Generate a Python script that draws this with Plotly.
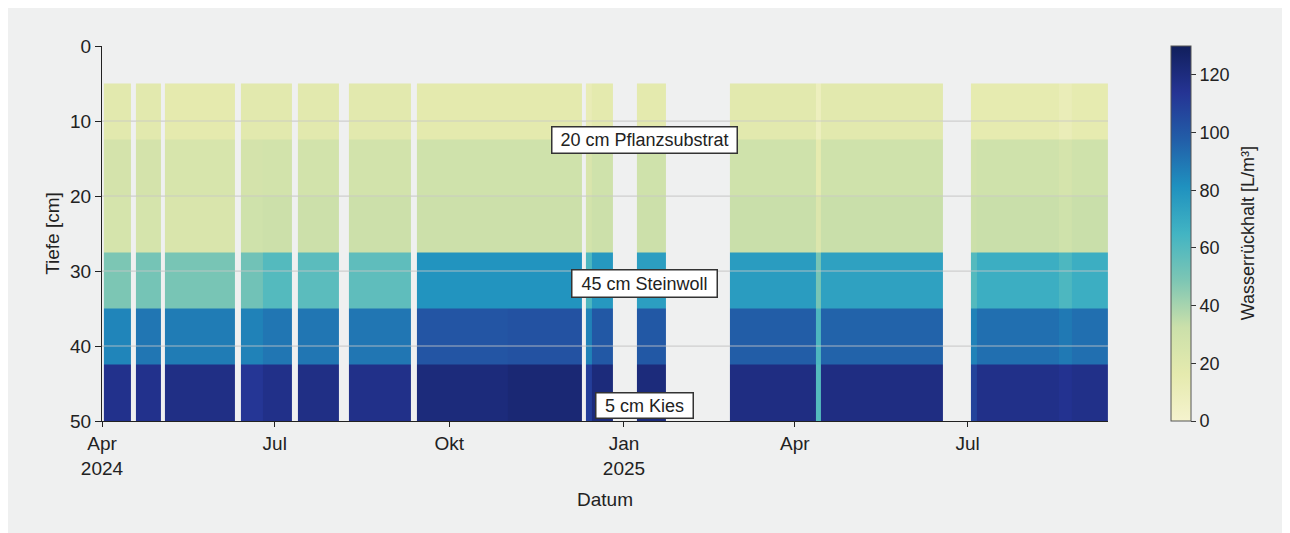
import plotly.graph_objects as go

# Depth layer edges [cm]
depth_edges = [5, 12.5, 20, 27.5, 35, 42.5, 50]

# Measurement periods (start, end) and water retention per layer [L/m³]
period_start = ["2024-04-02", "2024-04-19", "2024-05-04", "2024-06-13", "2024-06-25",
                "2024-07-13", "2024-08-09", "2024-09-14", "2024-11-01", "2024-12-12",
                "2024-12-15", "2025-01-08", "2025-02-26", "2025-04-12", "2025-04-15",
                "2025-07-03", "2025-07-06", "2025-08-18", "2025-08-25"]
period_end = ["2024-04-16", "2024-05-02", "2024-06-10", "2024-06-25", "2024-07-10",
              "2024-08-04", "2024-09-11", "2024-11-01", "2024-12-10", "2024-12-15",
              "2024-12-26", "2025-01-23", "2025-04-12", "2025-04-15", "2025-06-18",
              "2025-07-06", "2025-08-18", "2025-08-25", "2025-09-13"]
layer_5_12 =   [18, 18, 16, 18, 18, 18, 18, 17, 17, 12, 17, 17, 18, 8, 18, 15, 15, 11, 15]
layer_12_20 =  [27, 27, 25, 27, 28, 28, 28, 30, 30, 24, 30, 30, 30, 15, 30, 28, 30, 26, 30]
layer_20_27 =  [26, 26, 24, 30, 32, 32, 32, 32, 32, 28, 32, 32, 33, 22, 33, 32, 33, 30, 33]
layer_27_35 =  [49, 51, 50, 52, 60, 58, 57, 80, 80, 62, 78, 75, 76, 50, 74, 60, 68, 62, 68]
layer_35_42 =  [85, 90, 88, 86, 90, 90, 90, 101, 102, 86, 100, 100, 98, 62, 96, 86, 92, 89, 92]
layer_42_50 =  [116, 116, 118, 113, 117, 118, 117, 121, 123, 110, 121, 121, 119, 60, 119, 108, 117, 115, 117]

x_ticks = ["2024-04-01", "2024-07-01", "2024-10-01", "2025-01-01", "2025-04-01", "2025-07-01"]
x_ticktext = ["Apr<br>2024", "Jul", "Okt", "Jan<br>2025", "Apr", "Jul"]
y_ticks = [0, 10, 20, 30, 40, 50]
cb_ticks = [0, 20, 40, 60, 80, 100, 120]
grid_over = [10, 20, 30, 40]

layers = [layer_5_12, layer_12_20, layer_20_27, layer_27_35, layer_35_42, layer_42_50]

# build bin edges, inserting empty columns for gaps
x_edges = []
z = [[] for _ in layers]
for i, (s, e) in enumerate(zip(period_start, period_end)):
    if i == 0:
        x_edges.append(s)
    elif s != x_edges[-1]:
        x_edges.append(s)
        for row in z:
            row.append(None)
    x_edges.append(e)
    for row, vals in zip(z, layers):
        row.append(vals[i])

FONT = "Liberation Sans, Arial, Helvetica, sans-serif"
BG = "#eff0f0"

# YlGnBu-like scale, slightly muted as in the reference
colorscale = [
    [0.0, "rgb(245,243,206)"],
    [0.125, "rgb(229,234,174)"],
    [0.25, "rgb(203,224,170)"],
    [0.375, "rgb(125,198,180)"],
    [0.5, "rgb(66,180,195)"],
    [0.625, "rgb(31,145,191)"],
    [0.75, "rgb(34,94,168)"],
    [0.875, "rgb(37,52,148)"],
    [1.0, "rgb(17,31,92)"],
]

fig = go.Figure()
fig.add_trace(go.Heatmap(
    x=x_edges, y=depth_edges, z=z,
    colorscale=colorscale,
    zmin=0, zmax=130,
    colorbar=dict(
        tickvals=cb_ticks, ticks="outside", ticklen=5, tickcolor="#333",
        tickfont=dict(size=18, color="#222"),
        thickness=20, len=1.0, lenmode="fraction", y=0.5, yanchor="middle", ypad=0,
        x=1.0626, xanchor="left", xpad=0,
        outlinecolor="#555", outlinewidth=1,
    ),
    hoverongaps=False,
))

shapes = []
for g in grid_over:
    shapes.append(dict(type="line", xref="paper", yref="y", x0=0, x1=1, y0=g, y1=g,
                       line=dict(color="rgba(200,200,200,0.55)", width=1.5), layer="above"))

annots = [
    dict(text="20 cm Pflanzsubstrat", x="2025-01-12", y=12.5, width=182, height=23),
    dict(text="45 cm Steinwoll", x="2025-01-12", y=31.6, width=142, height=24),
    dict(text="5 cm Kies", x="2025-01-12", y=47.9, width=94, height=22),
]
annotations = [dict(text=a["text"], x=a["x"], y=a["y"], xref="x", yref="y",
                    showarrow=False, width=a["width"], height=a["height"],
                    bgcolor="white", bordercolor="#333", borderwidth=1.5,
                    font=dict(size=18, color="#222", family=FONT))
               for a in annots]
annotations.append(dict(text="Wasserrückhalt [L/m³]", xref="paper", yref="paper",
                        x=1.139, y=0.5, textangle=-90, showarrow=False,
                        xanchor="center", yanchor="middle",
                        font=dict(size=18, color="#222", family=FONT)))

fig.update_layout(
    width=1290, height=533,
    margin=dict(l=94, r=190, t=38, b=120),
    paper_bgcolor=BG, plot_bgcolor=BG,
    font=dict(family=FONT, size=19, color="#222"),
    shapes=shapes,
    annotations=annotations,
    xaxis=dict(
        range=["2024-04-01", "2025-09-13"], type="date",
        tickvals=x_ticks, ticktext=x_ticktext,
        ticks="outside", ticklen=5, tickcolor="#222",
        showline=True, linecolor="#222", linewidth=1.2,
        showgrid=False, zeroline=False,
        title=dict(text="Datum", standoff=15, font=dict(size=19)),
        tickfont=dict(size=19),
    ),
    yaxis=dict(
        range=[50, 0], tickvals=y_ticks,
        ticks="outside", ticklen=6, tickcolor="#222",
        showline=True, linecolor="#222", linewidth=1.2,
        showgrid=True, gridcolor="#e2e3e3", gridwidth=1, zeroline=False,
        title=dict(text="Tiefe [cm]", standoff=5, font=dict(size=19)),
        tickfont=dict(size=19),
    ),
)

fig.write_html("out.html", post_script="document.body.style.overflow='hidden';")
